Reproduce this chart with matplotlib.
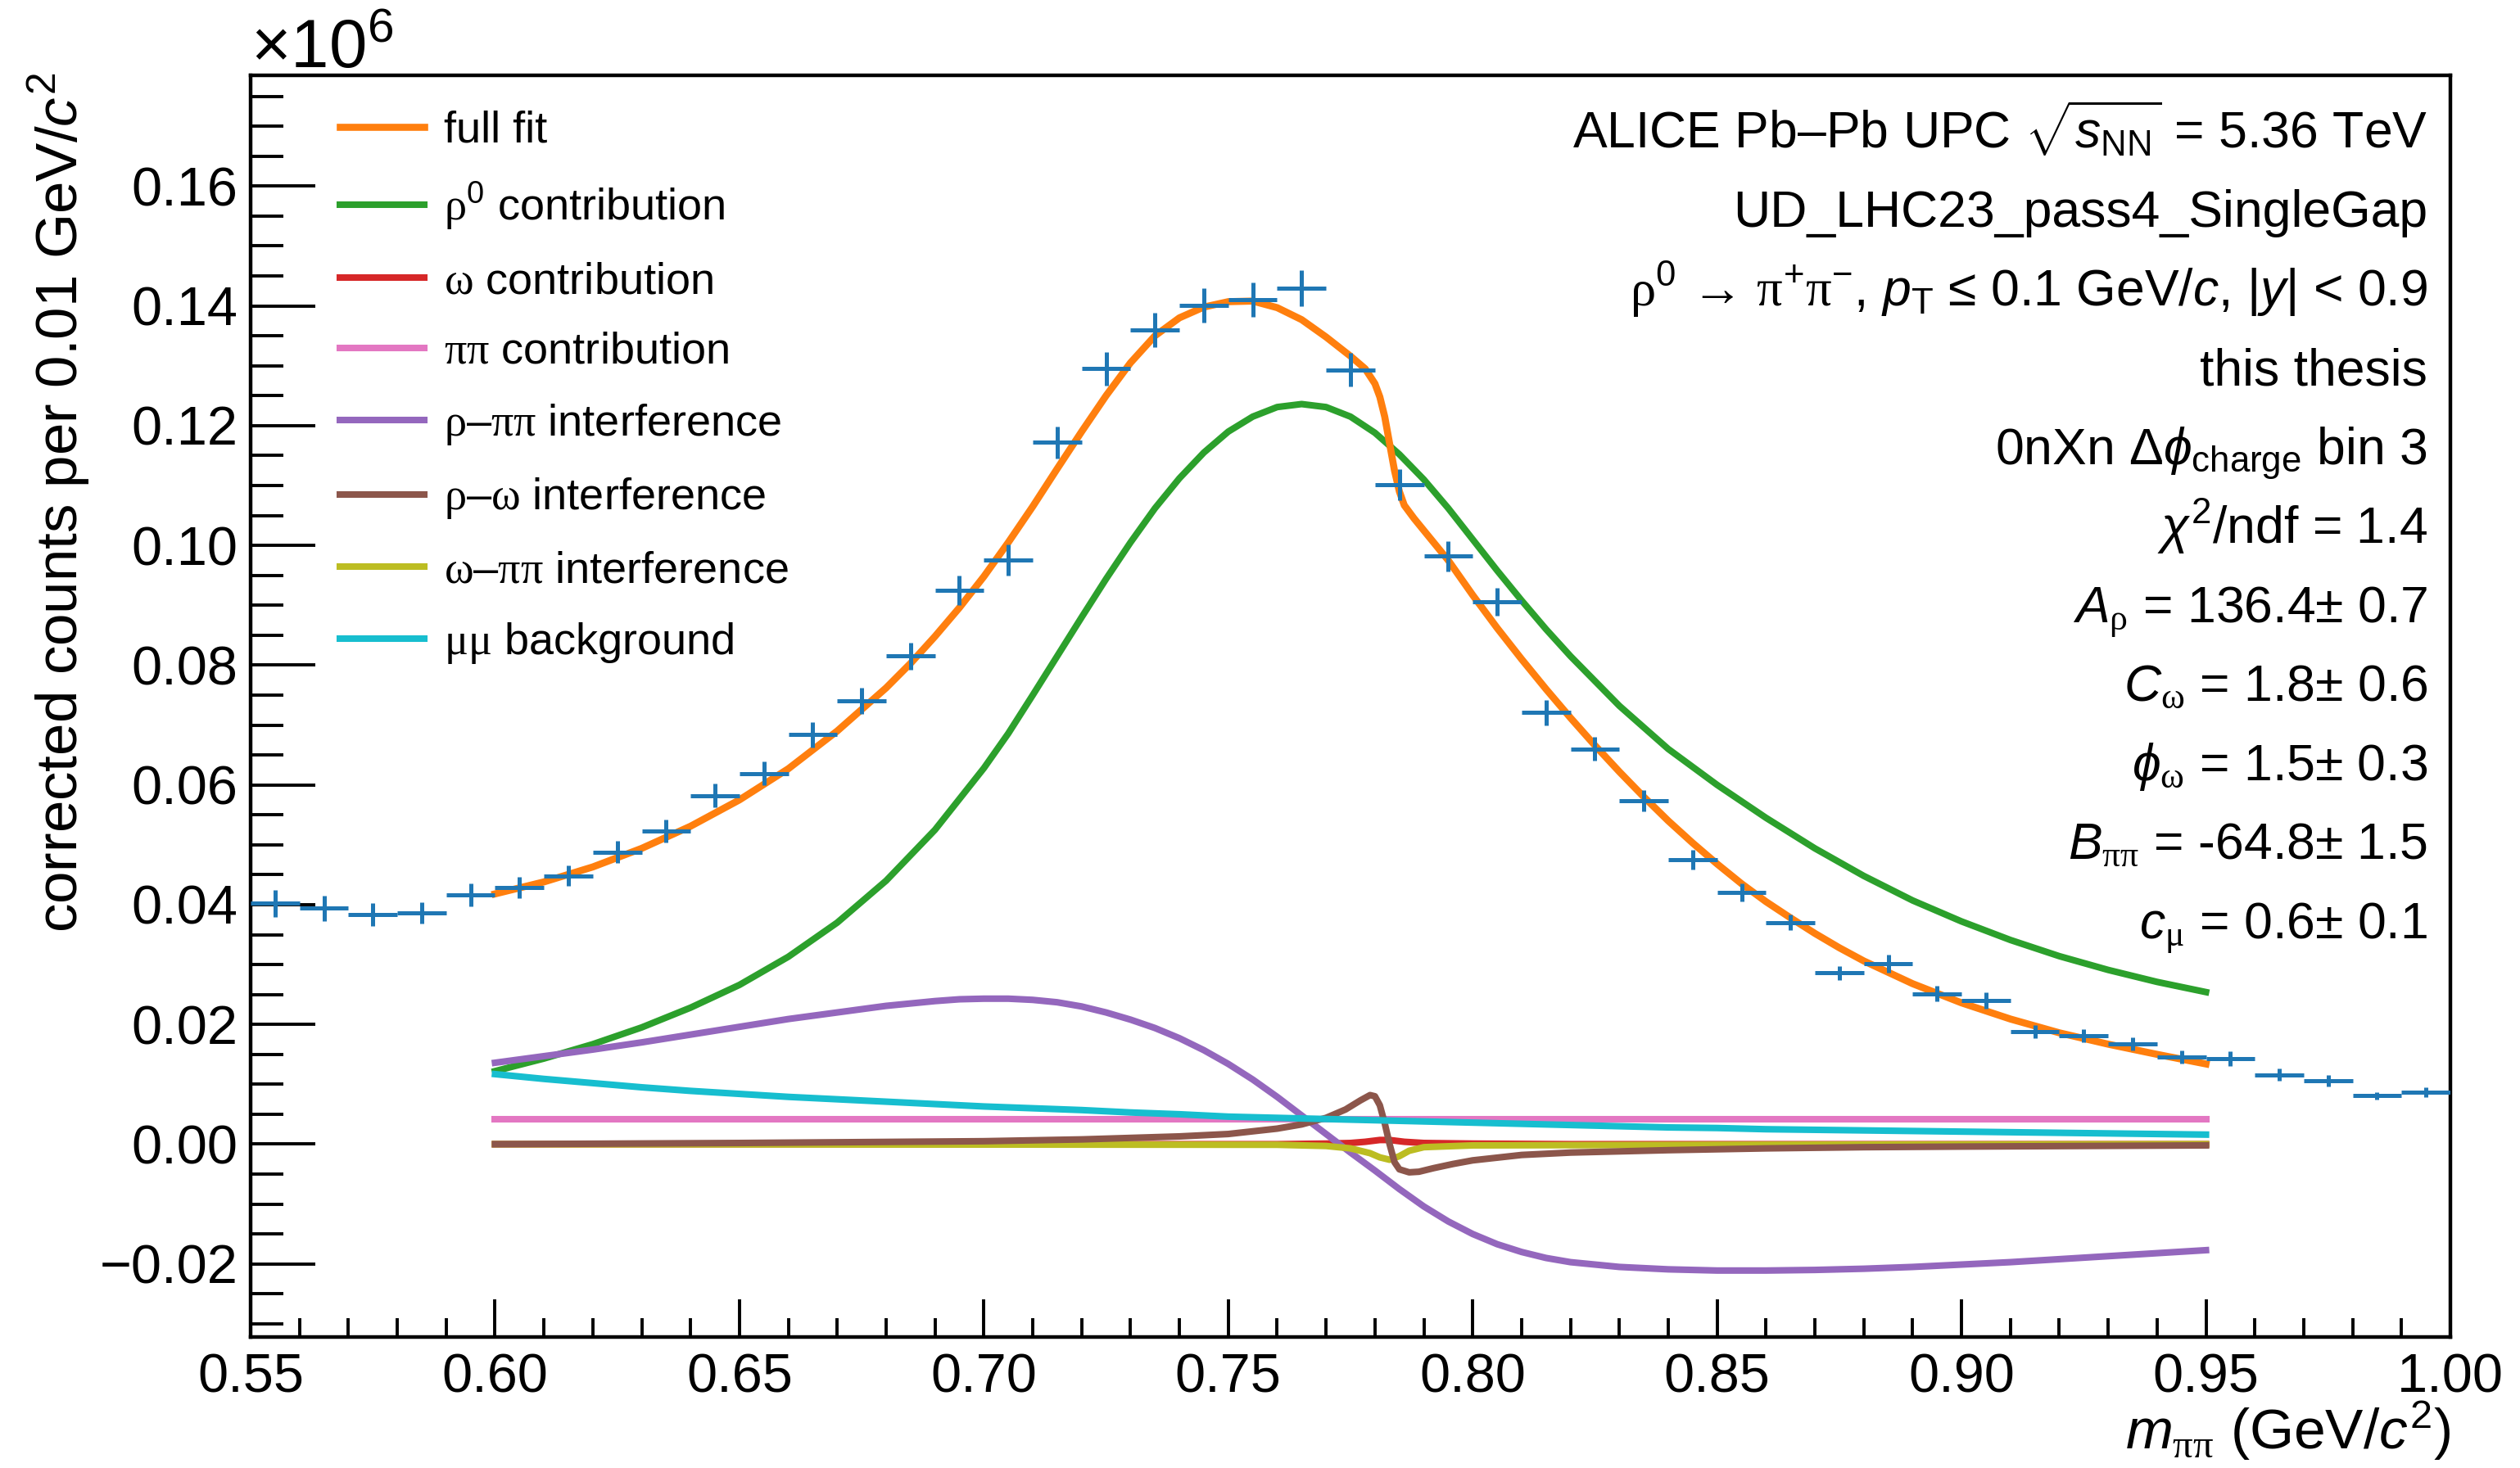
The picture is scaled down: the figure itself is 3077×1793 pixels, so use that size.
import matplotlib
matplotlib.use("Agg")
import matplotlib.pyplot as plt
import numpy as np
from matplotlib.ticker import MultipleLocator, FuncFormatter

plt.rcParams['font.family'] = ['Liberation Sans', 'DejaVu Sans']
plt.rcParams['mathtext.fontset'] = 'custom'
plt.rcParams['mathtext.rm'] = 'Liberation Sans'
plt.rcParams['mathtext.it'] = 'Liberation Sans:italic'
plt.rcParams['mathtext.bf'] = 'Liberation Sans:bold'
plt.rcParams['mathtext.sf'] = 'Liberation Serif'

# data points (x 10^6 counts), bin width 0.01
m_data = np.round(np.arange(0.555, 1.0, 0.01), 3)
y_data = [0.0402, 0.0394, 0.0383, 0.0386, 0.0416, 0.0429, 0.0448, 0.0488, 0.0523, 0.0582,
          0.0619, 0.0684, 0.0740, 0.0815, 0.0925, 0.0976, 0.1172, 0.1295, 0.1360, 0.1401,
          0.1410, 0.1430, 0.1293, 0.1102, 0.0982, 0.0906, 0.0721, 0.0660, 0.0574, 0.0475,
          0.0421, 0.0370, 0.0286, 0.0302, 0.0251, 0.0240, 0.0188, 0.0181, 0.0167, 0.0146,
          0.0143, 0.0116, 0.0106, 0.0081, 0.0087]
y_err = [0.0023, 0.0021, 0.0019, 0.0018, 0.0019, 0.0018, 0.0017, 0.0018, 0.0019, 0.0020,
         0.0020, 0.0021, 0.0022, 0.0023, 0.0025, 0.0026, 0.0027, 0.0028, 0.0029, 0.0029,
         0.0029, 0.0030, 0.0028, 0.0026, 0.0025, 0.0023, 0.0021, 0.0020, 0.0018, 0.0016,
         0.0015, 0.0013, 0.0012, 0.0015, 0.0013, 0.0014, 0.0011, 0.0011, 0.0011, 0.0011,
         0.0012, 0.0010, 0.0009, 0.0006, 0.0008]

# full fit
m_fit = [0.600, 0.610, 0.620, 0.630, 0.640, 0.650, 0.660, 0.670, 0.680, 0.685, 0.690, 0.695,
         0.700, 0.705, 0.710, 0.715, 0.720, 0.725, 0.730, 0.735, 0.740, 0.745, 0.750, 0.755,
         0.760, 0.765, 0.770, 0.775, 0.778, 0.780, 0.781, 0.782, 0.783, 0.784, 0.785, 0.786,
         0.788, 0.790, 0.795, 0.800, 0.805, 0.810, 0.815, 0.820, 0.825, 0.830, 0.835, 0.840,
         0.845, 0.850, 0.855, 0.860, 0.865, 0.870, 0.875, 0.880, 0.890, 0.900, 0.910, 0.920,
         0.930, 0.940, 0.950]
y_fit = [0.0418, 0.0438, 0.0463, 0.0494, 0.0531, 0.0575, 0.0627, 0.0690, 0.0762, 0.0803, 0.0848,
         0.0896, 0.0948, 0.1005, 0.1065, 0.1128, 0.1190, 0.1250, 0.1305, 0.1350, 0.1380, 0.1398,
         0.1407, 0.1408, 0.1397, 0.1377, 0.1348, 0.1316, 0.1295, 0.1270, 0.1248, 0.1215, 0.1170,
         0.1125, 0.1090, 0.1067, 0.1045, 0.1025, 0.0975, 0.0917, 0.0862, 0.0810, 0.0760, 0.0712,
         0.0666, 0.0622, 0.0580, 0.0540, 0.0503, 0.0468, 0.0435, 0.0405, 0.0378, 0.0352, 0.0328,
         0.0306, 0.0268, 0.0236, 0.0209, 0.0186, 0.0167, 0.0150, 0.0134]

# rho0 contribution
m_rho = [0.600, 0.610, 0.620, 0.630, 0.640, 0.650, 0.660, 0.670, 0.680, 0.690, 0.700, 0.705,
         0.710, 0.715, 0.720, 0.725, 0.730, 0.735, 0.740, 0.745, 0.750, 0.755, 0.760, 0.765,
         0.770, 0.775, 0.780, 0.785, 0.790, 0.795, 0.800, 0.805, 0.810, 0.815, 0.820, 0.830,
         0.840, 0.850, 0.860, 0.870, 0.880, 0.890, 0.900, 0.910, 0.920, 0.930, 0.940, 0.950]
y_rho = [0.0122, 0.0143, 0.0167, 0.0195, 0.0228, 0.0266, 0.0313, 0.0370, 0.0440, 0.0525, 0.0628,
         0.0686, 0.0750, 0.0815, 0.0880, 0.0944, 0.1005, 0.1062, 0.1112, 0.1155, 0.1190, 0.1215,
         0.1231, 0.1236, 0.1231, 0.1215, 0.1188, 0.1152, 0.1110, 0.1062, 0.1010, 0.0958, 0.0908,
         0.0860, 0.0815, 0.0732, 0.0660, 0.0600, 0.0545, 0.0494, 0.0448, 0.0407, 0.0372, 0.0341,
         0.0314, 0.0291, 0.0271, 0.0254]

# omega contribution
m_omega = [0.60, 0.76, 0.77, 0.775, 0.778, 0.781, 0.783, 0.786, 0.79, 0.80, 0.82, 0.95]
y_omega = [0.0, 0.0, 0.0001, 0.0002, 0.0004, 0.0007, 0.0007, 0.0004, 0.0002, 0.0001, 0.0, 0.0]

# pipi contribution
m_pipi = [0.60, 0.95]
y_pipi = [0.0042, 0.0042]

# rho-pipi interference
m_rhopipi = [0.600, 0.610, 0.620, 0.630, 0.640, 0.650, 0.660, 0.670, 0.680, 0.690, 0.695,
             0.700, 0.705, 0.710, 0.715, 0.720, 0.725, 0.730, 0.735, 0.740, 0.745, 0.750,
             0.755, 0.760, 0.765, 0.770, 0.775, 0.780, 0.785, 0.790, 0.795, 0.800, 0.805,
             0.810, 0.815, 0.820, 0.830, 0.840, 0.850, 0.860, 0.870, 0.880, 0.890, 0.900,
             0.910, 0.920, 0.930, 0.940, 0.950]
y_rhopipi = [0.0136, 0.0147, 0.0158, 0.0170, 0.0183, 0.0196, 0.0209, 0.0220, 0.0231, 0.0239,
             0.0242, 0.0243, 0.0243, 0.0241, 0.0237, 0.0230, 0.0220, 0.0208, 0.0194, 0.0177,
             0.0157, 0.0134, 0.0108, 0.0079, 0.0048, 0.0017, -0.0014, -0.0044, -0.0075,
             -0.0104, -0.0129, -0.0150, -0.0167, -0.0180, -0.0190, -0.0197, -0.0205, -0.0209,
             -0.0211, -0.0211, -0.0210, -0.0208, -0.0205, -0.0201, -0.0197, -0.0192, -0.0187,
             -0.0182, -0.0177]

# rho-omega interference
m_rhoom = [0.60, 0.65, 0.70, 0.72, 0.74, 0.75, 0.76, 0.765, 0.77, 0.774, 0.777, 0.779, 0.780,
           0.781, 0.782, 0.783, 0.784, 0.785, 0.787, 0.789, 0.792, 0.796, 0.80, 0.81, 0.82, 0.84,
           0.86, 0.88, 0.90, 0.95]
y_rhoom = [0.0, 0.0002, 0.0005, 0.0008, 0.0013, 0.0017, 0.0026, 0.0033, 0.0044, 0.0058, 0.0073,
           0.0082, 0.0080, 0.0065, 0.0035, 0.0000, -0.0030, -0.0042, -0.0047, -0.0046, -0.0040,
           -0.0033, -0.0027, -0.0018, -0.0014, -0.0010, -0.0007, -0.0005, -0.0004, -0.0002]

# omega-pipi interference
m_ompipi = [0.60, 0.76, 0.77, 0.775, 0.779, 0.781, 0.783, 0.785, 0.787, 0.79, 0.80, 0.85, 0.95]
y_ompipi = [0.0, -0.0001, -0.0003, -0.0007, -0.0015, -0.0022, -0.0026, -0.0020, -0.0011, -0.0005,
            -0.0002, -0.0001, 0.0]

# mu mu background
m_mumu = [0.60, 0.61, 0.62, 0.63, 0.64, 0.65, 0.66, 0.67, 0.68, 0.69, 0.70, 0.71, 0.72, 0.73,
          0.74, 0.75, 0.76, 0.77, 0.78, 0.79, 0.80, 0.81, 0.82, 0.83, 0.84, 0.85, 0.86, 0.87,
          0.88, 0.89, 0.90, 0.91, 0.92, 0.93, 0.94, 0.95]
y_mumu = [0.0117, 0.0109, 0.0102, 0.0095, 0.0089, 0.0084, 0.0079, 0.0075, 0.0071, 0.0067, 0.0063,
          0.0060, 0.0057, 0.0053, 0.0050, 0.0046, 0.0044, 0.0042, 0.0040, 0.0038, 0.0036, 0.0034,
          0.0032, 0.0030, 0.0028, 0.0027, 0.0025, 0.0024, 0.0023, 0.0022, 0.0021, 0.0020, 0.0019,
          0.0018, 0.0017, 0.0016]

info_lines = [
    r"ALICE Pb–Pb UPC $\sqrt{s_{\mathrm{NN}}}$ = 5.36 TeV",
    r"UD_LHC23_pass4_SingleGap",
    r"$\mathsf{\rho}^{0}$ → $\mathsf{\pi}^{+}\mathsf{\pi}^{-}$, $p_{\mathrm{T}}$ ≤ 0.1 GeV/$c$, |$y$| < 0.9",
    r"this thesis",
    r"0nXn Δ$\phi_{\mathrm{charge}}$ bin 3",
    r"$\chi^{2}$/ndf = 1.4",
    r"$A_{\mathsf{\rho}}$ = 136.4± 0.7",
    r"$C_{\mathsf{\omega}}$ = 1.8± 0.6",
    r"$\phi_{\mathsf{\omega}}$ = 1.5± 0.3",
    r"$B_{\mathsf{\pi\pi}}$ = -64.8± 1.5",
    r"$c_{\mathsf{\mu}}$ = 0.6± 0.1",
]

W, H = 3077, 1793
fig = plt.figure(figsize=(W / 200, H / 200), dpi=200)
ax = fig.add_axes([306 / W, 1 - 1633 / H, (2992 - 306) / W, (1633 - 92) / H])

lw = 2.9
ax.plot(m_rho, y_rho, color='#2ca02c', lw=lw, label=r"$\mathsf{\rho}^{0}$ contribution", zorder=2)
ax.plot(m_omega, y_omega, color='#d62728', lw=lw, label=r"$\mathsf{\omega}$ contribution", zorder=2)
ax.plot(m_pipi, y_pipi, color='#e377c2', lw=lw, label=r"$\mathsf{\pi\pi}$ contribution", zorder=2)
ax.plot(m_rhopipi, y_rhopipi, color='#9467bd', lw=lw, label=r"$\mathsf{\rho}$–$\mathsf{\pi\pi}$ interference", zorder=2)
ax.plot(m_rhoom, y_rhoom, color='#8c564b', lw=lw, label=r"$\mathsf{\rho}$–$\mathsf{\omega}$ interference", zorder=3)
ax.plot(m_ompipi, y_ompipi, color='#bcbd22', lw=lw, label=r"$\mathsf{\omega}$–$\mathsf{\pi\pi}$ interference", zorder=2.5)
ax.plot(m_mumu, y_mumu, color='#17becf', lw=lw, label=r"$\mathsf{\mu\mu}$ background", zorder=3)
ax.plot(m_fit, y_fit, color='#ff7f0e', lw=3.1, label="full fit", zorder=4)
ax.errorbar(m_data, y_data, xerr=0.005, yerr=y_err, fmt='none', ecolor='#1f77b4',
            elinewidth=1.8, capsize=0, zorder=5)

ax.set_xlim(0.55, 1.00)
ax.set_ylim(-0.0322, 0.1785)
ax.xaxis.set_major_locator(MultipleLocator(0.05))
ax.xaxis.set_minor_locator(MultipleLocator(0.01))
ax.yaxis.set_major_locator(MultipleLocator(0.02))
ax.yaxis.set_minor_locator(MultipleLocator(0.005))
ax.xaxis.set_major_formatter(FuncFormatter(lambda v, p: f"{v:.2f}"))
ax.yaxis.set_major_formatter(FuncFormatter(lambda v, p: f"{v:.2f}".replace("-", "\u2212")))
ax.tick_params(axis='both', which='both', direction='in', width=1.4, labelsize=24,
               top=False, right=False)
ax.tick_params(axis='y', which='major', length=28.5, pad=5.5)
ax.tick_params(axis='y', which='minor', length=14.5)
ax.tick_params(axis='x', which='major', length=16.5, pad=7)
ax.tick_params(axis='x', which='minor', length=8.3)
for s in ax.spines.values():
    s.set_linewidth(1.6)

handles, labels = ax.get_legend_handles_labels()
order = [7, 0, 1, 2, 3, 4, 5, 6]
leg = ax.legend([handles[i] for i in order], [labels[i] for i in order],
                loc='upper left', bbox_to_anchor=(366 / W, 1 - 86 / H),
                bbox_transform=fig.transFigure, frameon=False, fontsize=19.5,
                handlelength=1.9, handletextpad=0.45, labelspacing=0.66)

for k, line in enumerate(info_lines):
    fig.text(2964 / W, 1 - (181 + k * 96.5) / H, line, ha='right', va='baseline', fontsize=22.5)

fig.text(306 / W, 1 - 83 / H, r"×10$^{6}$", ha='left', va='baseline', fontsize=30)
fig.text(72 / W, 1 - 88 / H, r"corrected counts per 0.01 GeV/$c^{2}$", rotation=90,
         ha='center', va='top', fontsize=25.5)
fig.text(2992 / W, 1 - 1770 / H, r"$m_{\mathsf{\pi\pi}}$ (GeV/$c^{2}$)", ha='right',
         va='baseline', fontsize=25)

fig.savefig("out.png", dpi=200)
